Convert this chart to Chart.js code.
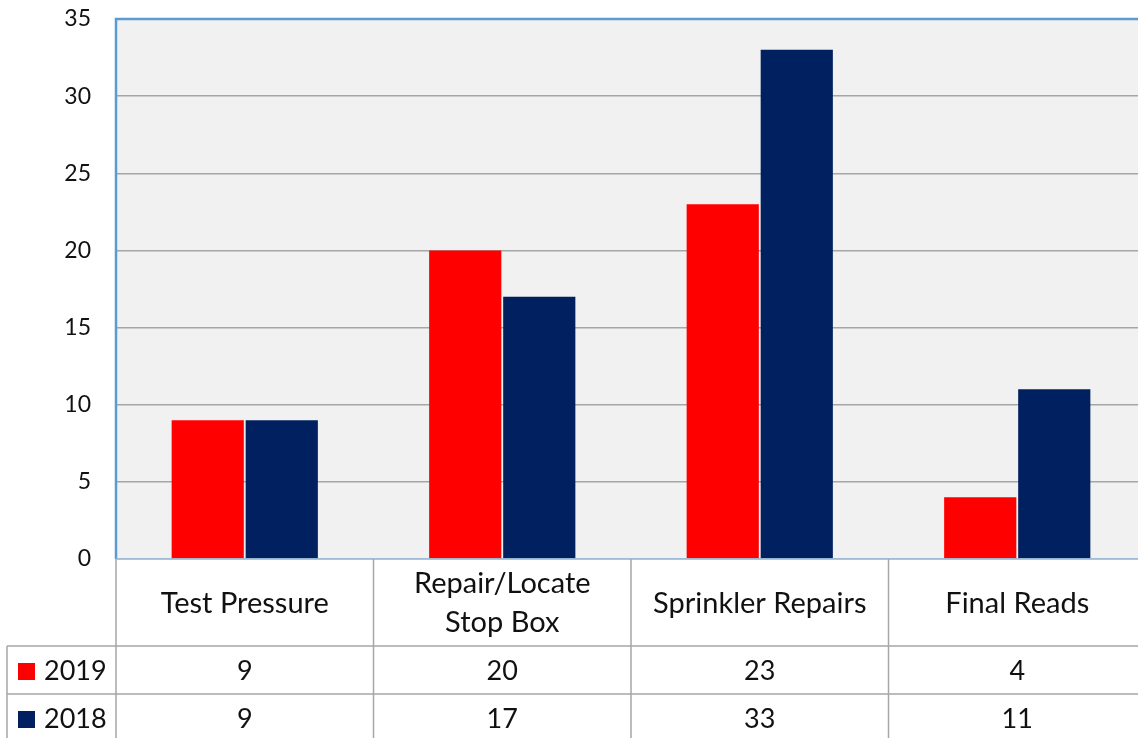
<!DOCTYPE html>
<html>
<head>
<meta charset="utf-8">
<script src="https://cdn.jsdelivr.net/npm/chart.js@4/dist/chart.umd.min.js"></script>
<style>
  html, body { margin: 0; padding: 0; background: #fff; overflow: hidden; }
  #wrap { width: 1148px; height: 738px; }
</style>
</head>
<body>
<div id="wrap"><canvas id="chart" width="1148" height="738"></canvas></div>
<script>
// datos del gráfico
const categories = ['Test Pressure', ['Repair/Locate', 'Stop Box'], 'Sprinkler Repairs', 'Final Reads'];
const values2019 = [9, 20, 23, 4];
const values2018 = [9, 17, 33, 11];
const seriesNames = ['2019', '2018'];
const seriesColors = ['#ff0000', '#002060'];
const yTicks = [0, 5, 10, 15, 20, 25, 30, 35];

const FONT = 'Lato, "Open Sans", sans-serif';
const TEXT = '#111111';

// fondo gris y bordes azules del área de trazado
const plotAreaPlugin = {
    id: 'plotArea',
    beforeDraw(chart) {
        const { ctx, chartArea: a } = chart;
        ctx.save();
        ctx.fillStyle = '#f1f1f1';
        ctx.fillRect(a.left, a.top, a.right - a.left, a.bottom - a.top);
        ctx.restore();
    },
    afterDatasetsDraw(chart) {
        const { ctx, chartArea: a } = chart;
        ctx.save();
        ctx.strokeStyle = '#5b9bd5';
        ctx.lineWidth = 2.5;
        ctx.beginPath();
        ctx.moveTo(a.left, a.bottom);
        ctx.lineTo(a.left, a.top);
        ctx.lineTo(a.right, a.top);
        ctx.stroke();
        ctx.strokeStyle = '#9dc3e6';
        ctx.lineWidth = 1.5;
        ctx.beginPath();
        ctx.moveTo(a.left, a.bottom);
        ctx.lineTo(a.right, a.bottom);
        ctx.stroke();
        ctx.restore();
    }
};

// tabla de datos debajo del gráfico
const dataTablePlugin = {
    id: 'dataTable',
    afterDraw(chart) {
        const { ctx, chartArea: a } = chart;
        const x = chart.scales.x;
        const n = categories.length;
        const catW = (a.right - a.left) / n;
        const headBottom = 646;
        const row1Bottom = 694;
        const tableBottom = 742;
        const tableLeft = 7;

        ctx.save();
        ctx.strokeStyle = '#a6a6a6';
        ctx.lineWidth = 1.5;

        // líneas verticales entre categorías
        for (let i = 0; i <= n; i++) {
            const lx = a.left + i * catW;
            ctx.beginPath();
            ctx.moveTo(lx, a.bottom);
            ctx.lineTo(lx, tableBottom);
            ctx.stroke();
        }
        // borde izquierdo de la leyenda
        ctx.beginPath();
        ctx.moveTo(tableLeft, headBottom);
        ctx.lineTo(tableLeft, tableBottom);
        ctx.stroke();
        // líneas horizontales
        [headBottom, row1Bottom].forEach(y => {
            ctx.beginPath();
            ctx.moveTo(tableLeft, y);
            ctx.lineTo(a.right, y);
            ctx.stroke();
        });

        ctx.fillStyle = TEXT;
        ctx.font = '29px ' + FONT;
        ctx.textAlign = 'center';
        ctx.textBaseline = 'middle';

        // encabezados de categoría
        categories.forEach((cat, i) => {
            const cx = x.getPixelForValue(i);
            const lines = Array.isArray(cat) ? cat : [cat];
            const mid = (a.bottom + headBottom) / 2 + 1;
            const lh = 39;
            lines.forEach((ln, j) => {
                ctx.fillText(ln, cx, mid + (j - (lines.length - 1) / 2) * lh);
            });
        });

        // filas de valores
        ctx.font = '27px ' + FONT;
        const rows = [values2019, values2018];
        const rowMid = [(headBottom + row1Bottom) / 2 + 1, (row1Bottom + 738) / 2 + 3];
        rows.forEach((vals, r) => {
            vals.forEach((v, i) => {
                ctx.textAlign = 'center';
                ctx.fillText(String(v), x.getPixelForValue(i), rowMid[r]);
            });
            // clave de leyenda
            ctx.fillStyle = seriesColors[r];
            ctx.fillRect(18, rowMid[r] - 8, 17, 17);
            ctx.fillStyle = TEXT;
            ctx.textAlign = 'left';
            ctx.fillText(seriesNames[r], 44, rowMid[r]);
        });
        ctx.restore();
    }
};

new Chart(document.getElementById('chart'), {
    type: 'bar',
    data: {
        labels: categories,
        datasets: [
            { label: seriesNames[0], data: values2019, backgroundColor: seriesColors[0] },
            { label: seriesNames[1], data: values2018, backgroundColor: seriesColors[1] }
        ]
    },
    options: {
        responsive: false,
        animation: false,
        layout: { padding: { left: 0, top: 19, right: 2, bottom: 179 } },
        datasets: {
            bar: { categoryPercentage: 0.575, barPercentage: 0.975 }
        },
        scales: {
            x: { display: false },
            y: {
                min: 0,
                max: 35,
                afterFit(scale) {
                    scale.width = 116;
                    scale.paddingTop = 0;
                    scale.paddingBottom = 0;
                },
                afterBuildTicks(scale) { scale.ticks = yTicks.map(v => ({ value: v })); },
                border: { display: false },
                grid: { color: '#a6a6a6', lineWidth: 1.5, drawTicks: false },
                ticks: {
                    padding: 25,
                    color: TEXT,
                    font: { family: FONT, size: 23 }
                }
            }
        },
        plugins: {
            legend: { display: false },
            tooltip: { enabled: false }
        }
    },
    plugins: [plotAreaPlugin, dataTablePlugin]
});
</script>
</body>
</html>
